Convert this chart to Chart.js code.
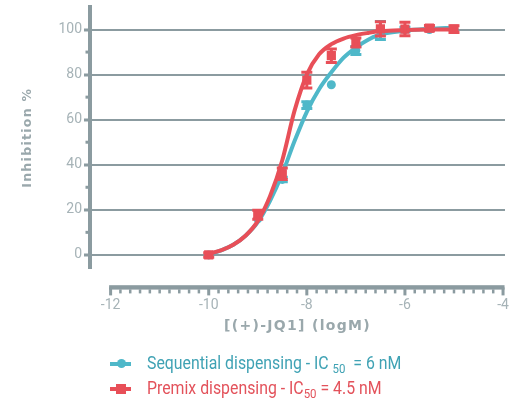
<!DOCTYPE html>
<html>
<head>
<meta charset="utf-8">
<script src="https://cdn.jsdelivr.net/npm/chart.js@4.4.0/dist/chart.umd.min.js"></script>
<style>
body { margin: 0; background: #fff; }
#wrap { position: relative; width: 512px; height: 399px; }
.line { position: absolute; left: 110px; width: 21px; height: 4px; }
.dot { position: absolute; left: 7px; top: -2.5px; width: 9px; height: 9px; border-radius: 50%; }
.sq { position: absolute; left: 6px; top: -3px; width: 10px; height: 10px; }
.txt { position: absolute; left: 147px; font-family: Roboto, sans-serif; font-size: 18px; line-height: 18px;
       white-space: pre; transform: scaleX(0.88); transform-origin: 0 0; }
.txt sub { font-size: 13px; vertical-align: -4px; line-height: 0; }
</style>
</head>
<body>
<div id="wrap">
  <canvas id="myChart" width="512" height="399"></canvas>
  <div class="line" style="top:361.5px; background:#4fb8c9"><div class="dot" style="background:#4fb8c9"></div></div>
  <div class="txt" style="top:353.7px; color:#3fa2b4">Sequential dispensing - IC <sub>50</sub>  = 6 nM</div>
  <div class="line" style="top:387px; background:#e84f58"><div class="sq" style="background:#e84f58"></div></div>
  <div class="txt" style="top:379.3px; color:#e3525b">Premix dispensing - IC<sub>50</sub> = 4.5 nM</div>
</div>
<script>
// measured points (log M)
const doses = [-10, -9, -8.5, -8, -7.5, -7, -6.5, -6, -5.5, -5];
const seqValues = [0, 16, 33.5, 66.5, 75.5, 90.7, 99.6, 100, 100, 100];
const seqErrors = [0, 0, 1, 1.5, 0, 1.8, 4, 1, 0, 0];
const preValues = [0, 17.8, 36, 77.5, 88.4, 94.2, 100.3, 100.2, 100.6, 100.2];
const preErrors = [1, 2, 2.5, 3.5, 3, 2, 3.2, 3, 1.2, 1.5];

// fitted curves
const curveDoses = [-10, -9.75, -9.5, -9.25, -9, -8.75, -8.5, -8.25, -8, -7.75, -7.5, -7.25, -7, -6.75, -6.5, -6, -5.5, -5];
const seqCurve = [0, 2, 4.5, 8.5, 14.5, 24, 36, 50.5, 63.5, 73.5, 81, 87.5, 92, 95.5, 97.8, 99.5, 100.3, 100.8];
const preCurve = [0.5, 2, 4.5, 8.5, 15, 26, 42, 64, 80, 89, 93.5, 96, 97.5, 98.5, 99.3, 99.8, 100, 100];

const yTicks = [0, 20, 40, 60, 80, 100];
const yMinorTicks = [10, 30, 50, 70, 90];
const xTicks = [-12, -10, -8, -6, -4];

const teal = '#4fb8c9';
const red = '#e84f58';
const axisColor = '#8b9ba0';

const toPoints = (xs, ys) => xs.map((v, i) => ({ x: v, y: ys[i] }));

const deco = {
    id: 'deco',
    beforeDraw(chart) {
        // spaced letters for the axis titles (drawn in the grid layer)
        chart.ctx.letterSpacing = '1.3px';
    },
    beforeDatasetsDraw(chart) {
        const { ctx, chartArea, scales: { x, y } } = chart;
        ctx.letterSpacing = '0px';
        ctx.save();
        ctx.fillStyle = axisColor;
        // y minor ticks
        yMinorTicks.forEach(v => {
            const py = y.getPixelForValue(v);
            ctx.fillRect(chartArea.left - 4.5, py - 1.5, 3, 3);
        });
        // detached x axis
        const y0 = chartArea.bottom + 19;
        const x1 = x.getPixelForValue(xTicks[0]);
        const x2 = x.getPixelForValue(xTicks[xTicks.length - 1]);
        ctx.fillRect(x1 - 1.5, y0 - 2.2, x2 - x1 + 3, 4.4);
        for (let i = 0; i <= 40; i++) {
            const v = xTicks[0] + i * 0.2;
            const px = x.getPixelForValue(v);
            if (i % 10 === 0) ctx.fillRect(px - 1.5, y0, 3, 8);
            else ctx.fillRect(px - 1.25, y0 + 2, 2.5, 4);
        }
        ctx.restore();
    },
    afterDatasetDraw(chart, args) {
        const ds = chart.data.datasets[args.index];
        if (!ds.errors) return;
        const { ctx, scales: { x, y } } = chart;
        ctx.save();
        ctx.strokeStyle = ds.pointBackgroundColor;
        ctx.lineWidth = 3;
        ds.data.forEach((p, i) => {
            const e = ds.errors[i];
            if (!e) return;
            const px = x.getPixelForValue(p.x);
            const t = y.getPixelForValue(p.y + e);
            const b = y.getPixelForValue(p.y - e);
            ctx.beginPath();
            ctx.moveTo(px, t); ctx.lineTo(px, b);
            ctx.moveTo(px - 5.5, t); ctx.lineTo(px + 5.5, t);
            ctx.moveTo(px - 5.5, b); ctx.lineTo(px + 5.5, b);
            ctx.stroke();
        });
        ctx.restore();
    }
};

const tickFont = { family: 'Roboto, sans-serif', size: 14 };

new Chart(document.getElementById('myChart').getContext('2d'), {
    type: 'scatter',
    data: {
        datasets: [
            {
                data: toPoints(doses, preValues), errors: preErrors,
                pointStyle: 'rect', pointRadius: 6.5, pointBackgroundColor: red, pointBorderWidth: 0,
                showLine: false
            },
            {
                data: toPoints(curveDoses, preCurve), showLine: true, borderColor: red, borderWidth: 4,
                pointRadius: 0, cubicInterpolationMode: 'monotone'
            },
            {
                data: toPoints(doses, seqValues), errors: seqErrors,
                pointStyle: 'circle', pointRadius: 4.5, pointBackgroundColor: teal, pointBorderWidth: 0,
                showLine: false
            },
            {
                data: toPoints(curveDoses, seqCurve), showLine: true, borderColor: teal, borderWidth: 4,
                pointRadius: 0, cubicInterpolationMode: 'monotone'
            }
        ]
    },
    options: {
        responsive: false,
        animation: false,
        layout: { padding: { top: 7, right: 7, bottom: 60, left: 16 } },
        plugins: { legend: { display: false }, tooltip: { enabled: false } },
        scales: {
            x: {
                type: 'linear', min: -12.42, max: -3.96,
                afterBuildTicks: s => { s.ticks = xTicks.map(v => ({ value: v })); },
                afterFit: s => { s.height = 70.6; s.paddingLeft = 0; s.paddingRight = 0; },
                grid: { display: false, drawTicks: false },
                border: { display: false },
                ticks: { color: '#a6b3b7', font: tickFont, padding: 29, maxRotation: 0, z: 1 },
                title: { display: true, text: '[(+)-JQ1] (logM)', color: '#9aa8ac',
                         font: { family: '"DejaVu Sans", sans-serif', size: 14, weight: 'bold' }, padding: 4 }
            },
            y: {
                min: -6, max: 110,
                afterBuildTicks: s => { s.ticks = yTicks.map(v => ({ value: v })); },
                afterFit: s => { s.width = 74; s.paddingTop = 0; s.paddingBottom = 0; },
                grid: { color: axisColor, lineWidth: 2, drawTicks: true, tickLength: 6, tickWidth: 3, tickColor: axisColor },
                border: { display: true, color: axisColor, width: 4 },
                ticks: { color: '#a6b3b7', font: tickFont, padding: 2, z: 1 },
                title: { display: true, text: 'Inhibition %', color: '#9aa8ac',
                         font: { family: '"DejaVu Sans", sans-serif', size: 12.5, weight: 'bold' }, padding: 4 }
            }
        }
    },
    plugins: [deco]
});
</script>
</body>
</html>
